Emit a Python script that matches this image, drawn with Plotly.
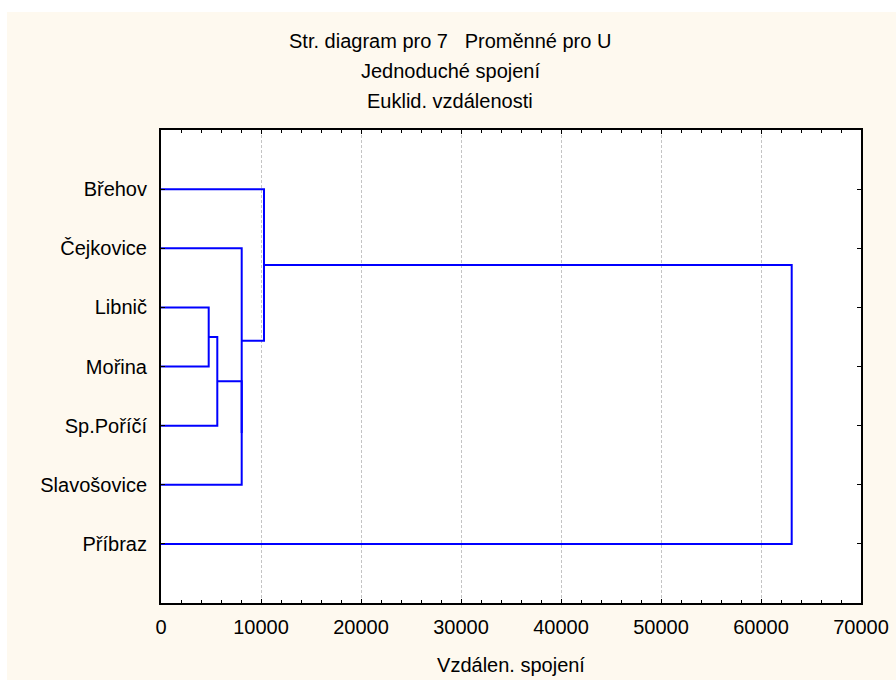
import plotly.graph_objects as go

# ---- data ----
labels = ["Břehov", "Čejkovice", "Libnič", "Mořina", "Sp.Poříčí", "Slavošovice", "Příbraz"]
# linkage: (cluster a, cluster b, linkage distance); leaves 0..6, new clusters 7..
merge_a = [2, 7, 8, 1, 0, 11]
merge_b = [3, 4, 5, 9, 10, 6]
merge_dist = [4770, 5630, 8070, 8070, 10300, 63070]
x_ticks = [0, 10000, 20000, 30000, 40000, 50000, 60000, 70000]

title_lines = ["Str. diagram pro 7   Proměnné pro U", "Jednoduché spojení", "Euklid. vzdálenosti"]
x_title = "Vzdálen. spojení"

# ---- build dendrogram segments ----
n = len(labels)
pos_y = {i: i + 1 for i in range(n)}
height = {i: 0 for i in range(n)}
xs, ys = [], []
for k, (a, b, d) in enumerate(zip(merge_a, merge_b, merge_dist)):
    xs += [height[a], d, d, height[b], None]
    ys += [pos_y[a], pos_y[a], pos_y[b], pos_y[b], None]
    new = n + k
    pos_y[new] = (pos_y[a] + pos_y[b]) / 2
    height[new] = d

# ---- layout geometry ----
W, H = 896, 680
L, R, T, B = 161, 35, 130, 77
pw, ph = W - L - R, H - T - B

def px_x(p):
    return (p - L) / pw

def px_y(p):
    return (H - B - p) / ph

FONT = "Liberation Sans, Arial, sans-serif"
cream = "#FEF9EF"

fig = go.Figure()
fig.add_trace(go.Scatter(x=xs, y=ys, mode="lines",
                         line=dict(color="#0000FF", width=2),
                         hoverinfo="skip", showlegend=False))

annotations = []
for line, yc in zip(title_lines, [41, 71, 101]):
    annotations.append(dict(text=line, xref="paper", yref="paper",
                            x=px_x(450), y=px_y(yc), xanchor="center", yanchor="middle",
                            showarrow=False, font=dict(family=FONT, size=20, color="black")))

shapes = [
    dict(type="rect", xref="paper", yref="paper", x0=-2, x1=px_x(7), y0=-2, y1=3,
         fillcolor="white", line=dict(width=0), layer="below"),
    dict(type="rect", xref="paper", yref="paper", x0=-2, x1=3, y0=px_y(12), y1=3,
         fillcolor="white", line=dict(width=0), layer="below"),
]

fig.update_layout(
    width=W, height=H,
    margin=dict(l=L, r=R, t=T, b=B, pad=0, autoexpand=False),
    paper_bgcolor=cream, plot_bgcolor="white",
    font=dict(family=FONT, size=20, color="black"),
    annotations=annotations, shapes=shapes,
    xaxis=dict(range=[0, 70000], tickvals=x_ticks, ticktext=[str(v) for v in x_ticks],
               ticks="inside", ticklen=4, tickwidth=1, tickcolor="black",
               minor=dict(dtick=2000, ticks="inside", ticklen=3, tickcolor="black", showgrid=False),
               showline=True, linecolor="black", linewidth=2, mirror="ticks",
               showgrid=True, gridcolor="#c4c4c4", gridwidth=1, griddash="3px,2px",
               zeroline=False, ticklabelstandoff=5, automargin=False,
               title=dict(text=x_title, standoff=21, font=dict(size=20))),
    yaxis=dict(range=[8, 0], tickvals=list(range(1, n + 1)), ticktext=labels,
               ticks="inside", ticklen=4, tickwidth=1, tickcolor="black",
               showline=True, linecolor="black", linewidth=2, mirror="ticks",
               showgrid=False, zeroline=False, ticklabelstandoff=8, automargin=False),
)

fig.write_html("out.html")
